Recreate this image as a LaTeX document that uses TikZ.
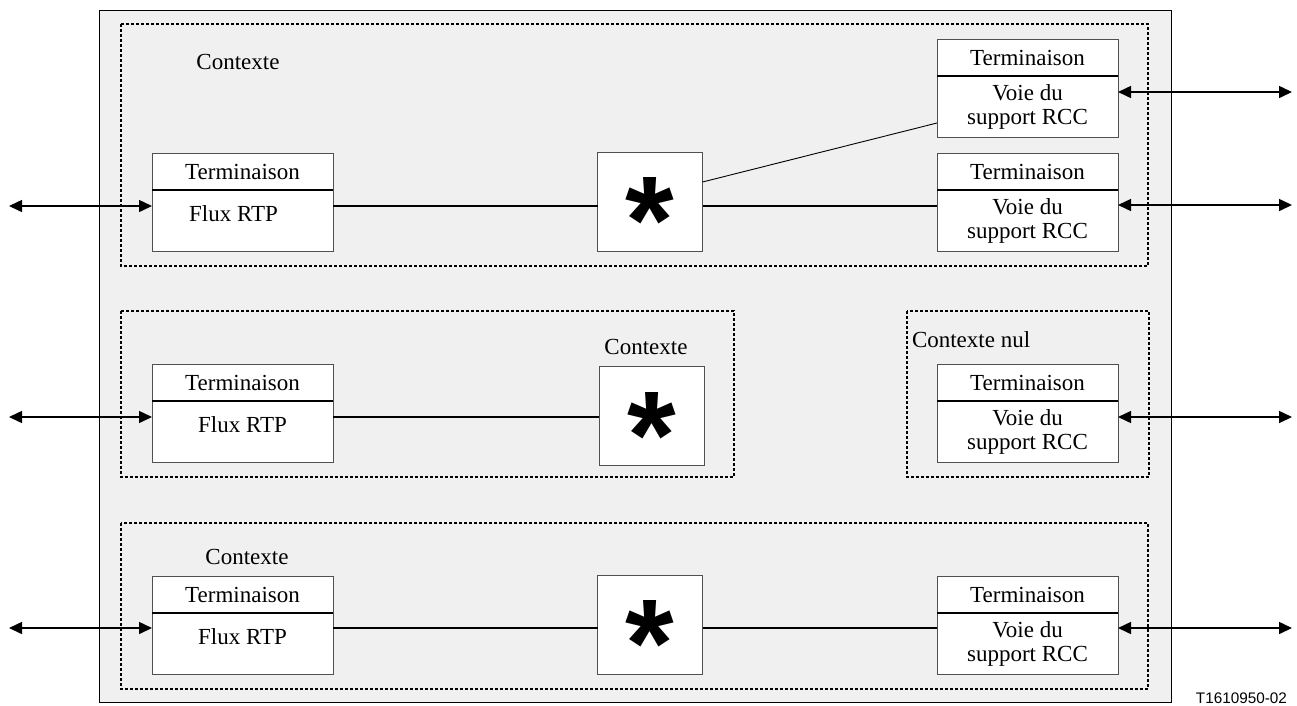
\documentclass[tikz,border=0pt]{standalone}
\usepackage{fontspec}
\setmainfont{Liberation Serif}
\newfontfamily\starfont{Liberation Sans}
\newfontfamily\tagfont{Liberation Sans}
\usetikzlibrary{positioning,arrows.meta}
\definecolor{panelgray}{RGB}{240,240,240}
\definecolor{edgegray}{RGB}{80,80,80}

\begin{document}
\begin{tikzpicture}[
    x=1pt, y=-1pt,
    every node/.style={font=\fontsize{23}{24}\selectfont, inner sep=0pt, outer sep=0pt},
    head/.style={rectangle, draw=edgegray, fill=white, line width=0.9pt, minimum width=181pt, minimum height=37pt, anchor=north west},
    body/.style={rectangle, draw=edgegray, fill=white, line width=0.9pt, minimum width=181pt, minimum height=61pt, align=center},
    fluxbody/.style={body, text depth=14pt},
    starbox/.style={rectangle, draw=edgegray, fill=white, line width=0.9pt, minimum width=105pt, minimum height=99pt},
    starglyph/.style={font=\starfont\bfseries\fontsize{125}{125}\selectfont, anchor=base},
    ctxbox/.style={draw=black, line width=1.5pt, dash pattern=on 3pt off 2pt},
    ctxlabel/.style={anchor=center},
    divider/.style={line width=1.6pt},
    link/.style={line width=1.3pt},
    slant/.style={line width=0.9pt},
    biarrow/.style={line width=1.5pt, {Triangle[length=13pt,width=12pt]}-{Triangle[length=13pt,width=12pt]}}
]
\useasboundingbox (0,0) rectangle (1297,705);
\draw[fill=panelgray, draw=black, line width=0.8pt] (99,10) rectangle (1171,702);

\draw[ctxbox] (121,24) rectangle (1148,266);
\draw[ctxbox] (121,311) rectangle (734,477);
\draw[ctxbox] (907,311) rectangle (1149,477);
\draw[ctxbox] (121,523) rectangle (1148,689);

\node[ctxlabel] (c1) at (238,62) {Contexte};
\node[ctxlabel] (c2) at (646,347) {Contexte};
\node[anchor=west] (c3) at (912,340) {Contexte nul};
\node[ctxlabel] (c4) at (247,557) {Contexte};

\node[head] (t1) at (152,153) {Terminaison};
\node[fluxbody, below=0pt of t1] (f1) {Flux RTP\kern18pt};
\node[head] (t2) at (152,364) {Terminaison};
\node[fluxbody, below=0pt of t2] (f2) {Flux RTP};
\node[head] (t3) at (152,576) {Terminaison};
\node[fluxbody, below=0pt of t3] (f3) {Flux RTP};

\node[head] (ta) at (937,39) {Terminaison};
\node[body, below=0pt of ta] (va) {Voie du\\support RCC};
\node[head] (tb) at (937,153) {Terminaison};
\node[body, below=0pt of tb] (vb) {Voie du\\support RCC};
\node[head] (tn) at (937,364) {Terminaison};
\node[body, below=0pt of tn] (vn) {Voie du\\support RCC};
\node[head] (tc) at (937,576) {Terminaison};
\node[body, below=0pt of tc] (vc) {Voie du\\support RCC};

\foreach \t in {t1,t2,t3,ta,tb,tn,tc}
    \draw[divider] (\t.south west) -- (\t.south east);

\node[starbox] (s1) at (650,201.5) {};
\node[starbox] (s2) at (651.5,416) {};
\node[starbox] (s3) at (650,624.5) {};
\foreach \s in {s1,s2,s3}
    \node[starglyph] (\s g) at ([yshift=-62pt]\s.center) {*};

\coordinate (y1) at (0,206);
\coordinate (y2) at (0,417);
\coordinate (y3) at (0,628);
\coordinate (ya) at (0,92);
\coordinate (yb) at (0,205);
\coordinate (dstart) at (0,182);
\coordinate (dend) at (0,123);

\draw[link] (f1.east |- y1) -- (s1.west |- y1);
\draw[link] (s1.east |- y1) -- (vb.west |- y1);
\draw[slant] (s1.east |- dstart) -- (va.west |- dend);
\draw[link] (f2.east |- y2) -- (s2.west |- y2);
\draw[link] (f3.east |- y3) -- (s3.west |- y3);
\draw[link] (s3.east |- y3) -- (vc.west |- y3);

\coordinate (l1) at (9,206);
\coordinate (l2) at (9,417);
\coordinate (l3) at (9,628);
\coordinate (ra) at (1292,92);
\coordinate (rb) at (1292,205);
\coordinate (rn) at (1292,417);
\coordinate (rc) at (1292,628);

\draw[biarrow] (l1) -- (f1.west |- l1);
\draw[biarrow] (l2) -- (f2.west |- l2);
\draw[biarrow] (l3) -- (f3.west |- l3);
\draw[biarrow] (va.east |- ra) -- (ra);
\draw[biarrow] (vb.east |- rb) -- (rb);
\draw[biarrow] (vn.east |- rn) -- (rn);
\draw[biarrow] (vc.east |- rc) -- (rc);

\node[font=\tagfont\fontsize{15.3}{16}\selectfont, anchor=base east] (tag) at (1287,703) {T1610950-02};
\end{tikzpicture}
\end{document}
